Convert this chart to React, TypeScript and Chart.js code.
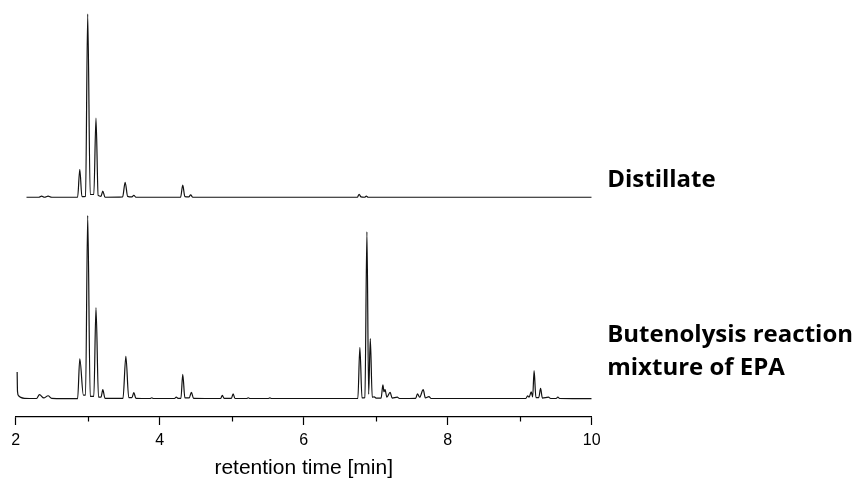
import React, { useEffect, useRef } from 'react';
import { Chart, registerables } from 'chart.js';

Chart.register(...registerables);

// Retention times [min] and relative signal (main peak = 100) of the distillate trace
const distillateTime = [
  2.15, 2.32, 2.36, 2.40, 2.45, 2.50, 2.86, 2.89, 2.92, 2.97, 3.0, 3.035, 3.085, 3.115, 3.145, 3.185, 3.21, 3.24,
  3.485, 3.52, 3.555, 3.615, 3.64, 3.67, 4.29, 4.32, 4.35, 4.405, 4.43, 4.46, 6.745, 6.77, 6.795, 6.845, 6.87, 6.895, 10.0,
];
const distillateSignal = [
  0, 0, 0.6, 0, 0.6, 0, 0, 15.3, 0.3, 0.5, 100, 1.5, 1.5, 43.2, 1.0, 0.5, 3.4, 0,
  0.2, 8.2, 0.5, 0.2, 1.1, 0, 0, 6.6, 0.3, 0.2, 1.3, 0, 0, 1.6, 0.2, 0, 0.6, 0, 0,
];

// Retention times [min] and relative signal of the butenolysis reaction mixture trace
const mixtureTime = [
  2.02, 2.025, 2.04, 2.07, 2.12, 2.29, 2.33, 2.39, 2.45, 2.50, 2.86, 2.89, 2.94, 2.97, 3.0, 3.035, 3.085, 3.115,
  3.15, 3.185, 3.21, 3.24, 3.49, 3.53, 3.57, 3.615, 3.64, 3.67, 3.865, 3.89, 3.915, 4.205, 4.23, 4.255, 4.295, 4.32,
  4.35, 4.41, 4.44, 4.47, 4.845, 4.87, 4.895, 4.995, 5.02, 5.045, 5.205, 5.23, 5.255, 5.505, 5.53, 5.555, 6.752, 6.78, 6.81,
  6.85, 6.878, 6.902, 6.925, 6.952, 6.98, 7.005, 7.075, 7.10, 7.115, 7.13, 7.155, 7.20, 7.23, 7.30, 7.33, 7.555,
  7.58, 7.61, 7.66, 7.69, 7.74, 7.77, 9.085, 9.11, 9.13, 9.16, 9.18, 9.20, 9.225, 9.265, 9.29, 9.315, 9.40, 9.43,
  9.505, 9.53, 9.555, 10.0,
];
const mixtureSignal = [
  14.6, 4.0, 1.6, 0.7, 0.2, 0.1, 2.2, 0.4, 1.6, 0.2, 0, 21.7, 2.0, 2.0, 100, 1.3, 1.3, 49.7,
  0.8, 0.8, 4.9, 0.2, 0.2, 23.1, 0.6, 0.6, 3.3, 0.2, 0.1, 0.5, 0.1, 0.1, 0.8, 0.2, 0.2, 13.3,
  0.4, 0.4, 3.4, 0.2, 0.1, 1.8, 0.2, 0.2, 2.6, 0.1, 0.1, 0.5, 0.1, 0.1, 0.4, 0.1, 0.1, 28.0, 0.4,
  0.6, 91.1, 2.5, 32.8, 0.8, 1.0, 0.3, 0.3, 7.5, 3.8, 4.9, 0.8, 3.4, 0.3, 0.8, 0.1, 0.2,
  2.7, 0.8, 4.9, 0.4, 1.1, 0.1, 0.1, 1.6, 0.8, 3.7, 1.0, 15.3, 0.6, 0.6, 5.6, 0.3, 0.8, 0.1,
  0.1, 0.8, 0.1, 0,
];

const majorTicks = [2, 4, 6, 8, 10];
const minorTicks = [3, 5, 7, 9];
const STACK_OFFSET = 110; // vertical offset of the distillate trace
const xTitle = 'retention time [min]';
const distillateLabel = ['Distillate'];
const mixtureLabel = ['Butenolysis reaction', 'mixture of EPA'];

const AXIS_FONT = '"Liberation Sans", Arial, sans-serif';
const LABEL_FONT = '"Open Sans", sans-serif';

const toPoints = (t: number[], s: number[], offset: number) =>
  t.map((x, i) => ({ x, y: s[i] + offset }));

const decorations = {
  id: 'decorations',
  afterDraw(chart: any) {
    const ctx = chart.ctx;
    const xs = chart.scales.x;
    const ys = chart.scales.y;
    ctx.save();
    // minor ticks
    ctx.strokeStyle = '#000';
    ctx.lineWidth = 1.2;
    minorTicks.forEach((v) => {
      const px = Math.round(xs.getPixelForValue(v)) + 0.5;
      ctx.beginPath();
      ctx.moveTo(px, xs.top);
      ctx.lineTo(px, xs.top + 4.5);
      ctx.stroke();
    });
    // trace labels
    ctx.fillStyle = '#000';
    ctx.font = `bold 24px ${LABEL_FONT}`;
    ctx.textAlign = 'left';
    ctx.textBaseline = 'alphabetic';
    const lx = chart.chartArea.right + 15.5;
    ctx.fillText(distillateLabel[0], lx, ys.getPixelForValue(115.8));
    ctx.fillText(mixtureLabel[0], lx, ys.getPixelForValue(30.7));
    ctx.fillText(mixtureLabel[1], lx, ys.getPixelForValue(12.9));
    ctx.restore();
  },
};

export default function App() {
  const ref = useRef<HTMLCanvasElement | null>(null);
  useEffect(() => {
    if (!ref.current) return;
    const chart = new Chart(ref.current, {
      type: 'line',
      data: {
        datasets: [
          {
            label: 'Distillate',
            data: toPoints(distillateTime, distillateSignal, STACK_OFFSET),
            borderColor: '#111',
            borderWidth: 1.2,
            pointRadius: 0,
            cubicInterpolationMode: 'monotone',
            fill: false,
          },
          {
            label: 'Butenolysis reaction mixture of EPA',
            data: toPoints(mixtureTime, mixtureSignal, 0),
            borderColor: '#111',
            borderWidth: 1.2,
            pointRadius: 0,
            cubicInterpolationMode: 'monotone',
            fill: false,
          },
        ],
      },
      options: {
        animation: false,
        responsive: false,
        maintainAspectRatio: false,
        layout: { padding: { left: 15.7, right: 265.3, top: 5, bottom: 2 } },
        plugins: { legend: { display: false }, tooltip: { enabled: false } },
        scales: {
          x: {
            type: 'linear',
            min: 2,
            max: 10,
            position: 'bottom',
            afterBuildTicks: (s: any) => {
              s.ticks = majorTicks.map((v) => ({ value: v }));
            },
            afterFit: (s: any) => {
              s.height = 65;
            },
            ticks: {
              font: { family: AXIS_FONT, size: 16 },
              color: '#000',
              padding: 6,
              maxRotation: 0,
              autoSkip: false,
            },
            grid: {
              display: true,
              drawOnChartArea: false,
              drawTicks: true,
              tickLength: 8,
              tickColor: '#000',
              tickWidth: 1.2,
            },
            border: { display: true, color: '#000', width: 1.2 },
            title: {
              display: true,
              text: xTitle,
              font: { family: AXIS_FONT, size: 21 },
              color: '#000',
              padding: { top: 3, bottom: 1 },
            },
          },
          y: { display: false, min: -10, max: 215 },
        },
      },
      plugins: [decorations],
    });
    return () => chart.destroy();
  }, []);
  return (
    <div style={{ position: 'fixed', left: 0, top: 0, width: 857, height: 484, background: '#fff' }}>
      <canvas ref={ref} width={857} height={484} style={{ display: 'block' }} />
    </div>
  );
}
